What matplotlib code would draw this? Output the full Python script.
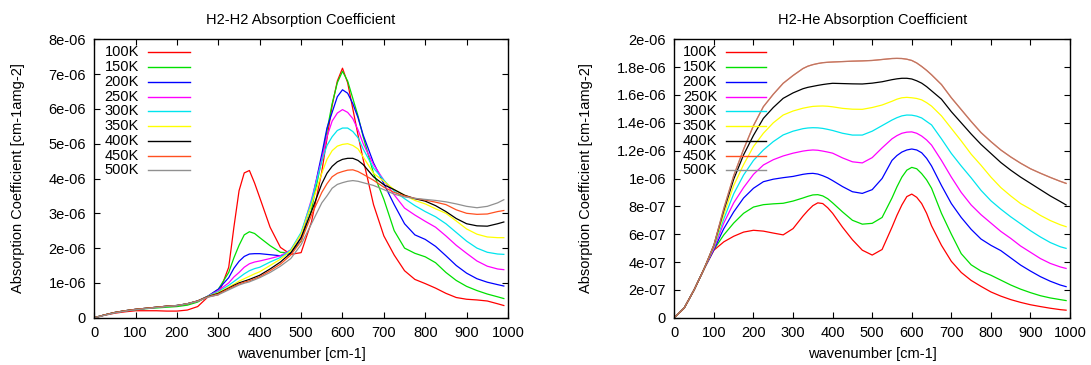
import matplotlib
matplotlib.use("Agg")
import matplotlib.pyplot as plt
from matplotlib.ticker import FuncFormatter, MultipleLocator

plt.rcParams['font.family'] = ['Liberation Sans', 'DejaVu Sans']
plt.rcParams['font.size'] = 10.5

# wavenumber grid [cm-1] (denser around the peaks)
wavenumber = [0, 25, 50, 75, 100, 125, 150, 175, 200, 225, 250, 275, 300, 325,
              337.5, 350, 362.5, 375, 387.5, 400, 425, 450, 475, 500, 525, 550,
              562.5, 575, 587.5, 600, 612.5, 625, 637.5, 650, 675, 700,
              725, 750, 775, 800, 825, 850, 875, 900, 925, 950, 975, 990]

temps = ['100K', '150K', '200K', '250K', '300K', '350K', '400K', '450K', '500K']
colors = ['#ff0000', '#00e000', '#0000ff', '#ff00ff', '#00e5ee',
          '#ffff00', '#000000', '#ff5020', '#909090']

# H2-H2, units of 1e-6 cm-1 amg-2
h2h2_100 = [0, 0.07, 0.13, 0.17, 0.20, 0.20, 0.20, 0.19, 0.19, 0.22, 0.32, 0.60, 0.66, 1.45,
            2.60, 3.65, 4.16, 4.23, 3.87, 3.45, 2.60, 2.02, 1.82, 1.87, 2.75, 4.20,
            5.15, 6.10, 6.80, 7.17, 6.75, 6.00, 5.25, 4.55, 3.25, 2.35,
            1.80, 1.35, 1.10, 0.98, 0.85, 0.70, 0.58, 0.53, 0.51, 0.48, 0.40, 0.35]
h2h2_150 = [0, 0.08, 0.15, 0.20, 0.23, 0.26, 0.28, 0.30, 0.32, 0.36, 0.45, 0.62, 0.82, 1.30,
            1.72, 2.08, 2.38, 2.47, 2.42, 2.30, 2.07, 1.88, 1.86, 2.20, 3.10, 4.55,
            5.38, 6.15, 6.75, 7.08, 6.80, 6.30, 5.80, 5.20, 4.15, 3.40,
            2.50, 2.00, 1.85, 1.75, 1.58, 1.30, 1.07, 0.90, 0.78, 0.68, 0.60, 0.55]
h2h2_200 = [0, 0.08, 0.15, 0.20, 0.24, 0.27, 0.30, 0.33, 0.35, 0.40, 0.48, 0.62, 0.82, 1.15,
            1.42, 1.62, 1.76, 1.83, 1.84, 1.84, 1.81, 1.78, 1.85, 2.30, 3.30, 4.70,
            5.45, 5.90, 6.35, 6.55, 6.45, 6.15, 5.75, 5.25, 4.45, 3.85,
            3.25, 2.70, 2.38, 2.25, 2.05, 1.78, 1.50, 1.28, 1.12, 1.02, 0.95, 0.91]
h2h2_250 = [0, 0.08, 0.15, 0.20, 0.24, 0.27, 0.30, 0.33, 0.35, 0.40, 0.48, 0.62, 0.78, 1.00,
            1.17, 1.30, 1.45, 1.55, 1.60, 1.63, 1.70, 1.78, 1.95, 2.40, 3.40, 4.55,
            5.20, 5.65, 5.88, 5.98, 5.90, 5.72, 5.40, 5.00, 4.40, 3.95,
            3.53, 3.15, 2.95, 2.77, 2.60, 2.35, 2.08, 1.85, 1.63, 1.48, 1.40, 1.38]
h2h2_300 = [0, 0.08, 0.15, 0.20, 0.24, 0.27, 0.30, 0.33, 0.35, 0.40, 0.48, 0.62, 0.75, 0.93,
            1.04, 1.15, 1.26, 1.35, 1.41, 1.45, 1.60, 1.73, 1.95, 2.45, 3.35, 4.50,
            4.95, 5.20, 5.38, 5.45, 5.45, 5.35, 5.17, 4.85, 4.30, 3.95,
            3.64, 3.42, 3.22, 3.05, 2.90, 2.70, 2.45, 2.20, 2.00, 1.88, 1.83, 1.82]
h2h2_350 = [0, 0.08, 0.15, 0.20, 0.24, 0.27, 0.30, 0.33, 0.35, 0.40, 0.48, 0.61, 0.72, 0.88,
            0.96, 1.05, 1.12, 1.19, 1.26, 1.32, 1.50, 1.68, 1.92, 2.40, 3.25, 4.15,
            4.55, 4.80, 4.93, 4.98, 5.00, 4.95, 4.85, 4.62, 4.15, 3.92,
            3.68, 3.52, 3.37, 3.27, 3.13, 3.00, 2.78, 2.55, 2.40, 2.32, 2.30, 2.30]
h2h2_400 = [0, 0.08, 0.15, 0.20, 0.24, 0.27, 0.30, 0.33, 0.35, 0.40, 0.48, 0.61, 0.70, 0.85,
            0.93, 1.00, 1.05, 1.10, 1.16, 1.22, 1.40, 1.60, 1.86, 2.30, 3.05, 3.85,
            4.15, 4.35, 4.48, 4.55, 4.58, 4.58, 4.52, 4.40, 4.05, 3.82,
            3.68, 3.52, 3.42, 3.35, 3.22, 3.05, 2.85, 2.70, 2.64, 2.63, 2.70, 2.75]
h2h2_450 = [0, 0.08, 0.15, 0.20, 0.24, 0.27, 0.30, 0.33, 0.35, 0.40, 0.48, 0.60, 0.68, 0.83,
            0.90, 0.97, 1.02, 1.06, 1.12, 1.18, 1.35, 1.54, 1.80, 2.20, 2.95, 3.60,
            3.85, 4.05, 4.15, 4.20, 4.24, 4.25, 4.20, 4.12, 3.95, 3.75,
            3.60, 3.50, 3.43, 3.38, 3.32, 3.25, 3.10, 3.00, 2.97, 2.98, 3.05, 3.08]
h2h2_500 = [0, 0.07, 0.14, 0.19, 0.23, 0.26, 0.29, 0.32, 0.35, 0.40, 0.47, 0.59, 0.66, 0.80,
            0.87, 0.94, 0.99, 1.03, 1.09, 1.15, 1.30, 1.48, 1.70, 2.10, 2.70, 3.30,
            3.50, 3.72, 3.83, 3.88, 3.92, 3.94, 3.92, 3.88, 3.80, 3.68,
            3.55, 3.47, 3.43, 3.40, 3.37, 3.33, 3.27, 3.20, 3.16, 3.20, 3.30, 3.39]

# H2-He, units of 1e-7 cm-1 amg-2
h2he_100 = [0, 0.7, 2.0, 3.5, 4.85, 5.45, 5.85, 6.15, 6.28, 6.22, 6.08, 5.95, 6.40, 7.30,
            7.70, 8.05, 8.25, 8.20, 7.90, 7.50, 6.50, 5.60, 4.85, 4.50, 4.90, 6.50,
            7.35, 8.10, 8.70, 8.88, 8.65, 8.20, 7.50, 6.60, 5.20, 4.05,
            3.25, 2.68, 2.25, 1.85, 1.55, 1.30, 1.10, 0.93, 0.80, 0.68, 0.58, 0.54]
h2he_150 = [0, 0.7, 2.0, 3.5, 4.9, 5.95, 6.80, 7.50, 7.95, 8.12, 8.18, 8.22, 8.38, 8.60,
            8.72, 8.82, 8.84, 8.75, 8.55, 8.25, 7.60, 7.00, 6.72, 6.78, 7.20, 8.60,
            9.40, 10.10, 10.60, 10.80, 10.70, 10.35, 9.90, 9.30, 7.50, 6.00,
            4.60, 3.80, 3.35, 3.05, 2.70, 2.35, 2.05, 1.80, 1.58, 1.42, 1.30, 1.23]
h2he_200 = [0, 0.7, 2.0, 3.5, 4.9, 6.40, 7.60, 8.60, 9.30, 9.77, 9.95, 10.06, 10.15, 10.30,
            10.35, 10.37, 10.32, 10.20, 10.05, 9.85, 9.42, 9.05, 8.93, 9.20, 10.00, 11.30,
            11.65, 11.90, 12.05, 12.12, 12.05, 11.85, 11.45, 10.90, 9.50, 8.20,
            7.20, 6.35, 5.65, 5.20, 4.82, 4.30, 3.78, 3.35, 2.95, 2.62, 2.35, 2.23]
h2he_250 = [0, 0.7, 2.0, 3.5, 4.98, 6.80, 8.25, 9.35, 10.30, 10.97, 11.35, 11.62, 11.82, 11.97,
            12.02, 12.05, 12.03, 11.97, 11.90, 11.82, 11.48, 11.20, 11.12, 11.50, 12.20, 12.85,
            13.08, 13.25, 13.33, 13.35, 13.25, 13.05, 12.77, 12.40, 11.30, 10.10,
            9.00, 8.10, 7.40, 6.80, 6.20, 5.70, 5.15, 4.70, 4.25, 3.90, 3.65, 3.54]
h2he_300 = [0, 0.7, 2.0, 3.5, 5.1, 7.10, 8.90, 10.25, 11.30, 12.05, 12.65, 13.13, 13.40, 13.58,
            13.63, 13.65, 13.64, 13.60, 13.53, 13.45, 13.25, 13.12, 13.12, 13.40, 13.80, 14.20,
            14.37, 14.50, 14.56, 14.55, 14.48, 14.35, 14.10, 13.85, 12.85, 11.80,
            10.90, 10.05, 9.15, 8.40, 7.80, 7.25, 6.75, 6.25, 5.80, 5.40, 5.10, 4.98]
h2he_350 = [0, 0.7, 2.0, 3.5, 5.15, 7.40, 9.50, 11.00, 12.30, 13.25, 14.00, 14.56, 14.85, 15.05,
            15.12, 15.18, 15.20, 15.21, 15.19, 15.15, 15.04, 14.98, 14.97, 15.10, 15.28, 15.55,
            15.70, 15.80, 15.83, 15.80, 15.75, 15.65, 15.45, 15.20, 14.50, 13.60,
            12.70, 11.75, 10.95, 10.10, 9.35, 8.75, 8.20, 7.80, 7.35, 6.98, 6.68, 6.54]
h2he_400 = [0, 0.7, 2.0, 3.5, 5.22, 7.70, 9.95, 11.70, 13.10, 14.32, 15.10, 15.76, 16.15, 16.45,
            16.55, 16.62, 16.69, 16.75, 16.80, 16.84, 16.82, 16.80, 16.79, 16.85, 16.95, 17.10,
            17.16, 17.20, 17.20, 17.15, 17.02, 16.85, 16.60, 16.30, 15.70, 14.80,
            14.00, 13.20, 12.45, 11.80, 11.15, 10.60, 10.10, 9.65, 9.20, 8.75, 8.35, 8.10]
# 450K and 500K lie on top of each other in this plot
h2he_450 = [0, 0.7, 2.0, 3.5, 5.22, 7.85, 10.20, 12.10, 13.80, 15.16, 16.05, 16.84, 17.40, 17.90,
            18.07, 18.18, 18.26, 18.32, 18.35, 18.37, 18.40, 18.43, 18.45, 18.48, 18.55, 18.62,
            18.63, 18.62, 18.57, 18.48, 18.30, 18.05, 17.77, 17.45, 16.75, 15.80,
            14.95, 14.10, 13.30, 12.65, 12.05, 11.55, 11.10, 10.70, 10.38, 10.08, 9.80, 9.65]
h2he_500 = list(h2he_450)

h2h2 = [h2h2_100, h2h2_150, h2h2_200, h2h2_250, h2h2_300, h2h2_350, h2h2_400, h2h2_450, h2h2_500]
h2he = [h2he_100, h2he_150, h2he_200, h2he_250, h2he_300, h2he_350, h2he_400, h2he_450, h2he_500]

fig = plt.figure(figsize=(10.91, 3.65), dpi=100)
ax1 = fig.add_axes([0.0864, 0.1296, 0.3792, 0.7627])
ax2 = fig.add_axes([0.6181, 0.1296, 0.3627, 0.7627])


def style_axes(ax, title, ymax, ystep):
    ax.set_xlim(0, 1000)
    ax.set_ylim(0, ymax)
    ax.xaxis.set_major_locator(MultipleLocator(100))
    ax.yaxis.set_major_locator(MultipleLocator(ystep))
    ax.yaxis.set_major_formatter(FuncFormatter(lambda v, p: '%g' % v))
    ax.tick_params(direction='in', top=True, right=True, length=4.5, width=0.8, pad=6)
    for s in ax.spines.values():
        s.set_linewidth(1.0)
    ax.set_title(title, fontsize=10.5, pad=11)
    ax.set_xlabel('wavenumber [cm-1]', labelpad=5)
    ax.set_ylabel('Absorption Coefficient [cm-1amg-2]', labelpad=17)


def draw_key(ax):
    # gnuplot style key: label, then a short line sample
    for i, (t, c) in enumerate(zip(temps, colors)):
        y = 0.953 - i * 0.053
        ax.text(0.108, y, t, transform=ax.transAxes, ha='right', va='center', fontsize=10.5)
        ax.plot([0.13, 0.232], [y, y], transform=ax.transAxes, color=c, lw=1.0)


for vals, c in zip(h2h2, colors):
    ax1.plot(wavenumber, [v * 1e-6 for v in vals], color=c, lw=0.9)
style_axes(ax1, 'H2-H2 Absorption Coefficient', 8e-6, 1e-6)
draw_key(ax1)

for i, (vals, c) in enumerate(zip(h2he, colors)):
    a = 0.6 if i == 8 else 1.0
    ax2.plot(wavenumber, [v * 1e-7 for v in vals], color=c, lw=0.9, alpha=a)
style_axes(ax2, 'H2-He Absorption Coefficient', 2e-6, 2e-7)
draw_key(ax2)

fig.savefig('out.png', dpi=100)
